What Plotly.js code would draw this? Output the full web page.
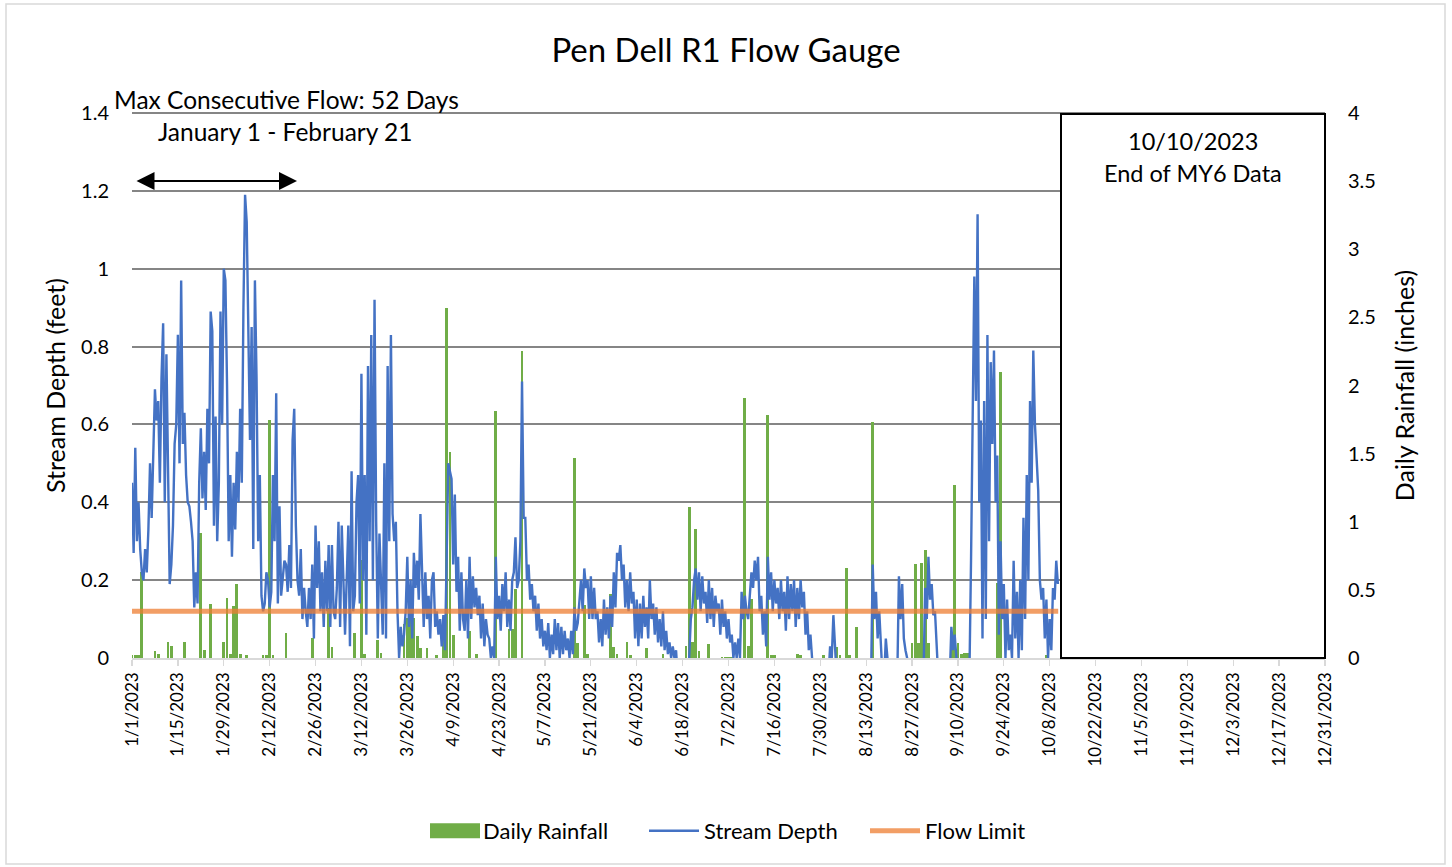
<!DOCTYPE html>
<html>
<head>
<meta charset="utf-8">
<script src="https://cdn.plot.ly/plotly-3.0.1.min.js"></script>
<style>
  html, body { margin: 0; padding: 0; background: #ffffff; }
  #chart { width: 1452px; height: 867px; }
</style>
</head>
<body>
<div id="chart"></div>
<script>
// ---------- DATA ----------
// X axis: days since 1/1/2023; tick every 14 days
const tickDays = [0,14,28,42,56,70,84,98,112,126,140,154,168,182,196,210,224,238,252,266,280,294,308,322,336,350,364];
const tickLabels = ["1/1/2023","1/15/2023","1/29/2023","2/12/2023","2/26/2023","3/12/2023","3/26/2023","4/9/2023","4/23/2023","5/7/2023","5/21/2023","6/4/2023","6/18/2023","7/2/2023","7/16/2023","7/30/2023","8/13/2023","8/27/2023","9/10/2023","9/24/2023","10/8/2023","10/22/2023","11/5/2023","11/19/2023","12/3/2023","12/17/2023","12/31/2023"];

// Daily rainfall (inches), day index since 1/1/2023
const rainDay = [0,1,2,3,7,8,11,12,16,21,22,24,28,29,30,31,32,33,35,40,41,42,43,47,55,60,61,68,70,71,75,76,83,84,85,86,87,88,90,93,95,96,97,98,103,105,111,115,116,117,119,135,136,138,139,146,147,148,151,152,157,162,169,170,171,172,173,176,180,181,182,183,187,188,189,194,195,196,203,204,211,215,216,218,219,221,226,238,239,240,241,242,243,250,251,252,253,254,255,264,265,279];
const rainInches = [0.02,0.02,0.02,0.63,0.05,0.03,0.12,0.09,0.12,0.92,0.06,0.40,0.12,0.44,0.03,0.38,0.54,0.03,0.02,0.02,0.02,1.75,0.02,0.18,0.15,0.37,0.08,0.18,0.72,0.03,0.13,0.04,0.25,0.29,0.30,0.29,0.16,0.07,0.07,0.02,0.20,2.57,1.51,0.17,0.20,0.03,1.81,0.21,0.21,0.51,2.25,1.47,0.11,0.39,0.03,0.47,0.08,0.03,0.12,0.02,0.07,0.03,0.09,1.11,0.12,0.95,0.05,0.10,0.01,0.01,0.01,0.01,1.91,0.09,0.43,1.78,0.02,0.02,0.03,0.02,0.02,0.08,0.02,0.66,0.02,0.23,1.73,0.11,0.69,0.11,0.70,0.79,0.11,0.11,1.27,0.11,0.03,0.04,0.04,0.55,2.10,0.02];

// Stream depth (feet), two readings per day from 1/1/2023 to 10/10/2023
const depthStartDay = 0;
const depthReadingsPerDay = 2;
const depthFeet = [
  0.45,0.27, 0.54,0.30, 0.40,0.28, 0.22,0.20, 0.28,0.22, 0.33,0.50, 0.36,0.56, 0.69,0.61, 0.66,0.45, 0.72,0.86,
  0.40,0.78, 0.41,0.19, 0.24,0.34, 0.55,0.60, 0.83,0.50, 0.97,0.55, 0.63,0.47, 0.40,0.39, 0.35,0.30, 0.13,0.22,
  0.14,0.45, 0.59,0.41, 0.53,0.38, 0.64,0.50, 0.89,0.84, 0.34,0.62, 0.30,0.45, 0.89,0.60, 1.00,0.97, 0.70,0.30,
  0.47,0.26, 0.45,0.33, 0.53,0.40, 0.64,0.45, 0.90,1.19, 1.12,0.78, 0.56,0.85, 0.28,0.97, 0.72,0.30, 0.47,0.16,
  0.12,0.14, 0.22,0.20, 0.13,0.17, 0.47,0.30, 0.68,0.14, 0.39,0.16, 0.20,0.25, 0.24,0.17, 0.29,0.18, 0.56,0.64,
  0.34,0.20, 0.16,0.28, 0.10,0.18, 0.12,0.08, 0.18,0.10, 0.24,0.05, 0.34,0.18, 0.30,0.12, 0.22,0.08, 0.25,0.12,
  0.29,0.08, 0.29,0.12, 0.10,0.18, 0.35,0.08, 0.34,0.18, 0.06,0.20, 0.34,0.03, 0.48,0.12, 0.16,0.40, 0.47,0.14,
  0.73,0.20, 0.47,0.06, 0.75,0.30, 0.83,0.20, 0.92,0.35, 0.05,0.32, 0.16,0.06, 0.50,0.05, 0.75,0.30, 0.83,0.37,
  0.30,0.35, 0.12,0.00, 0.08,0.03, 0.06,0.12, 0.26,0.08, 0.20,0.05, 0.27,0.18, 0.25,0.15, 0.37,0.20, 0.08,0.22,
  0.10,0.16, 0.05,0.20, 0.22,0.08, 0.12,0.06, 0.10,0.03, 0.11,0.02, 0.30,0.50, 0.48,0.46, 0.24,0.42, 0.17,0.26,
  0.07,0.22, 0.10,0.07, 0.20,0.05, 0.26,0.10, 0.21,0.13, 0.18,0.11, 0.16,0.05, 0.14,0.03, 0.10,0.06, 0.05,0.00,
  0.03,0.00, 0.26,0.10, 0.16,0.07, 0.19,0.12, 0.22,0.08, 0.15,0.07, 0.20,0.22, 0.31,0.18, 0.20,0.30, 0.71,0.36,
  0.36,0.20, 0.24,0.15, 0.19,0.12, 0.16,0.07, 0.14,0.05, 0.10,0.03, 0.07,0.02, 0.09,0.00, 0.06,0.01, 0.10,0.02,
  0.09,0.00, 0.08,0.01, 0.07,0.02, 0.05,0.00, 0.07,0.01, 0.13,0.07, 0.09,0.15, 0.20,0.12, 0.23,0.18, 0.20,0.10,
  0.21,0.10, 0.18,0.10, 0.12,0.04, 0.10,0.03, 0.15,0.06, 0.13,0.05, 0.16,0.08, 0.22,0.13, 0.27,0.25, 0.29,0.20,
  0.24,0.13, 0.20,0.12, 0.22,0.14, 0.17,0.05, 0.15,0.03, 0.14,0.05, 0.16,0.08, 0.13,0.05, 0.20,0.10, 0.14,0.06,
  0.13,0.04, 0.10,0.03, 0.12,0.02, 0.07,0.01, 0.04,0.00, 0.03,0.00, 0.02,-0.05, -0.05,-0.05, -0.05,-0.05, -0.05,-0.05,
  0.00,0.10, 0.13,0.20, 0.23,0.15, 0.22,0.12, 0.21,0.14, 0.17,0.09, 0.20,0.10, 0.18,0.08, 0.16,0.12, 0.14,0.06,
  0.15,0.08, 0.12,0.05, 0.10,0.04, 0.06,0.00, 0.04,0.00, 0.05,0.00, 0.17,0.10, 0.16,0.12, 0.10,0.15, 0.22,0.18,
  0.25,0.20, 0.26,0.12, 0.16,0.06, 0.12,0.03, 0.26,0.15, 0.22,0.12, 0.20,0.14, 0.18,0.10, 0.20,0.12, 0.17,0.07,
  0.21,0.10, 0.19,0.12, 0.20,0.08, 0.18,0.10, 0.20,0.13, 0.17,0.06, 0.12,0.02, 0.06,0.00, -0.05,-0.05, -0.05,-0.05,
  -0.05,-0.05, -0.05,-0.05, -0.05,-0.05, 0.03,0.00, 0.11,0.00, -0.05,-0.05, -0.05,-0.05, -0.05,-0.05, -0.05,-0.05, -0.05,-0.05,
  -0.05,-0.05, -0.05,-0.05, -0.05,-0.05, -0.05,-0.05, -0.05,-0.05, -0.05,-0.05, 0.24,0.10, 0.17,0.05, 0.12,0.00, -0.05,-0.05,
  0.05,0.00, -0.05,-0.05, -0.05,-0.05, -0.05,-0.05, 0.21,0.10, 0.19,0.05, 0.02,0.00, -0.05,-0.05, -0.05,-0.05, -0.05,-0.05,
  -0.05,-0.05, -0.05,-0.05, 0.18,0.10, 0.26,0.15, 0.19,0.11, 0.12,0.00, -0.05,-0.05, -0.05,-0.05, -0.05,-0.05, -0.05,-0.05,
  0.08,0.02, 0.06,0.00, -0.05,-0.05, -0.05,-0.05, -0.05,-0.05, -0.05,-0.05, 0.25,0.60, 0.98,0.66, 1.14,0.40, 0.61,0.05,
  0.66,0.10, 0.83,0.30, 0.76,0.55, 0.79,0.40, 0.52,0.06, 0.30,0.10, 0.19,0.00, 0.15,0.02, 0.06,0.00, 0.25,0.05,
  0.17,0.00, 0.20,0.02, 0.36,0.10, 0.47,0.20, 0.66,0.45, 0.79,0.60, 0.52,0.43, 0.20,0.15, 0.18,0.05, 0.15,0.00,
  0.10,0.02, 0.18,0.15, 0.25,0.19
];

// Flow limit (feet), applies over the data period
const flowLimitFeet = 0.12;
const flowLimitDays = [0, 282.6];

// ---------- BUILD ----------
const depthDays = depthFeet.map((_, i) => depthStartDay + i / depthReadingsPerDay);
const FONT = 'Lato, "Open Sans", sans-serif';
const GRID = '#858585';
const GREEN = '#70AD47';

const traces = [
  {
    type: 'bar', name: 'Daily Rainfall', x: rainDay, y: rainInches, yaxis: 'y',
    marker: { color: GREEN, line: { width: 0 } }, width: 0.85
  },
  {
    type: 'scatter', mode: 'lines', name: 'Stream Depth', x: depthDays, y: depthFeet, yaxis: 'y2',
    line: { color: '#4472C4', width: 2.4 }
  },
  {
    type: 'scatter', mode: 'lines', name: 'Flow Limit', x: flowLimitDays,
    y: flowLimitDays.map(() => flowLimitFeet), yaxis: 'y2',
    line: { color: 'rgba(237,125,49,0.75)', width: 5 }
  }
];

const layout = {
  width: 1452, height: 867,
  margin: { l: 132, r: 127, t: 113, b: 209 },
  paper_bgcolor: '#ffffff', plot_bgcolor: 'rgba(0,0,0,0)',
  font: { family: FONT, color: '#000000', size: 16 },
  showlegend: true,
  bargap: 0,
  title: {
    text: 'Pen Dell R1 Flow Gauge', font: { family: FONT, size: 33, color: '#000000' },
    xref: 'container', x: 0.5, xanchor: 'center', yref: 'container', y: 1 - 50 / 867, yanchor: 'middle'
  },
  xaxis: {
    range: [0, 364], tickmode: 'array', tickvals: tickDays, ticktext: tickLabels,
    tickangle: -90, ticks: 'outside', ticklen: 6, tickcolor: '#d9d9d9', tickwidth: 1.3,
    showline: true, linecolor: '#d9d9d9', linewidth: 1.5, showgrid: false, zeroline: false,
    tickfont: { family: FONT, size: 17, color: '#000000' }, fixedrange: true
  },
  yaxis: {
    side: 'right', range: [0, 4], dtick: 0.5, tick0: 0, showgrid: false, zeroline: false,
    showline: false, ticks: '', ticklabelstandoff: 22,
    tickfont: { family: FONT, size: 20, color: '#000000' },
    title: { text: 'Daily Rainfall (inches)', font: { family: FONT, size: 25, color: '#000000' }, standoff: 21 }
  },
  yaxis2: {
    overlaying: 'y', side: 'left', range: [0, 1.4], dtick: 0.2, tick0: 0,
    showgrid: true, gridcolor: GRID, gridwidth: 2, zeroline: false, showline: false,
    ticks: '', ticklabelstandoff: 22,
    tickfont: { family: FONT, size: 20, color: '#000000' },
    title: { text: 'Stream Depth (feet)', font: { family: FONT, size: 25, color: '#000000' }, standoff: 8 }
  },
  legend: {
    orientation: 'h', x: (423 - 132) / 1193, xanchor: 'left', y: -(831 - 658) / 545, yanchor: 'middle',
    font: { family: FONT, size: 22, color: '#000000' }, itemwidth: 50, entrywidth: 156, traceorder: 'normal'
  },
  shapes: [
    // top gridline at 1.4 ft
    { type: 'line', xref: 'paper', yref: 'paper', x0: 0, x1: 1, y0: 1, y1: 1,
      line: { color: GRID, width: 2 }, layer: 'below' },
    // end-of-data box
    { type: 'rect', xref: 'paper', yref: 'paper', x0: (1061 - 132) / 1193, x1: 1, y0: 0, y1: (658 - 114) / 545,
      fillcolor: '#ffffff', line: { color: '#000000', width: 2 }, layer: 'above' },
    // outer chart border
    { type: 'rect', xref: 'paper', yref: 'paper', x0: (6 - 132) / 1193, x1: (1445 - 132) / 1193,
      y0: (658 - 864) / 545, y1: (658 - 4) / 545, line: { color: '#d9d9d9', width: 1.5 }, fillcolor: 'rgba(0,0,0,0)', layer: 'below' }
  ],
  annotations: [
    { xref: 'paper', yref: 'paper', x: (286 - 132) / 1193, y: (658 - 99) / 545, text: 'Max Consecutive Flow: 52 Days',
      showarrow: false, xanchor: 'center', yanchor: 'middle', font: { family: FONT, size: 24.5, color: '#000000' } },
    { xref: 'paper', yref: 'paper', x: (285 - 132) / 1193, y: (658 - 132) / 545, text: 'January 1 - February 21',
      showarrow: false, xanchor: 'center', yanchor: 'middle', font: { family: FONT, size: 24.5, color: '#000000' } },
    { xref: 'paper', yref: 'paper', x: (297 - 132) / 1193, y: (658 - 181) / 545, text: '',
      showarrow: true, arrowside: 'end+start', arrowhead: 2, arrowsize: 1.8, arrowwidth: 2, arrowcolor: '#000000',
      ax: -162, ay: 0, standoff: 0, startstandoff: 0 },
    { xref: 'paper', yref: 'paper', x: (1193 - 132) / 1193, y: (658 - 141) / 545, text: '10/10/2023',
      showarrow: false, xanchor: 'center', yanchor: 'middle', font: { family: FONT, size: 23.5, color: '#000000' } },
    { xref: 'paper', yref: 'paper', x: (1193 - 132) / 1193, y: (658 - 173) / 545, text: 'End of MY6 Data',
      showarrow: false, xanchor: 'center', yanchor: 'middle', font: { family: FONT, size: 23.5, color: '#000000' } }
  ]
};

Plotly.newPlot('chart', traces, layout, { displayModeBar: false, staticPlot: true }).then(function (gd) {
  // widen the rainfall legend swatch to a bar-like rectangle, like the reference legend
  const item = gd.querySelector('.legend .traces');
  if (item) {
    item.querySelectorAll('.legendpoints path').forEach(function (p) {
      p.setAttribute('d', 'M-23,7.5H27V-7.5H-23Z');
    });
  }
});
</script>
</body>
</html>
